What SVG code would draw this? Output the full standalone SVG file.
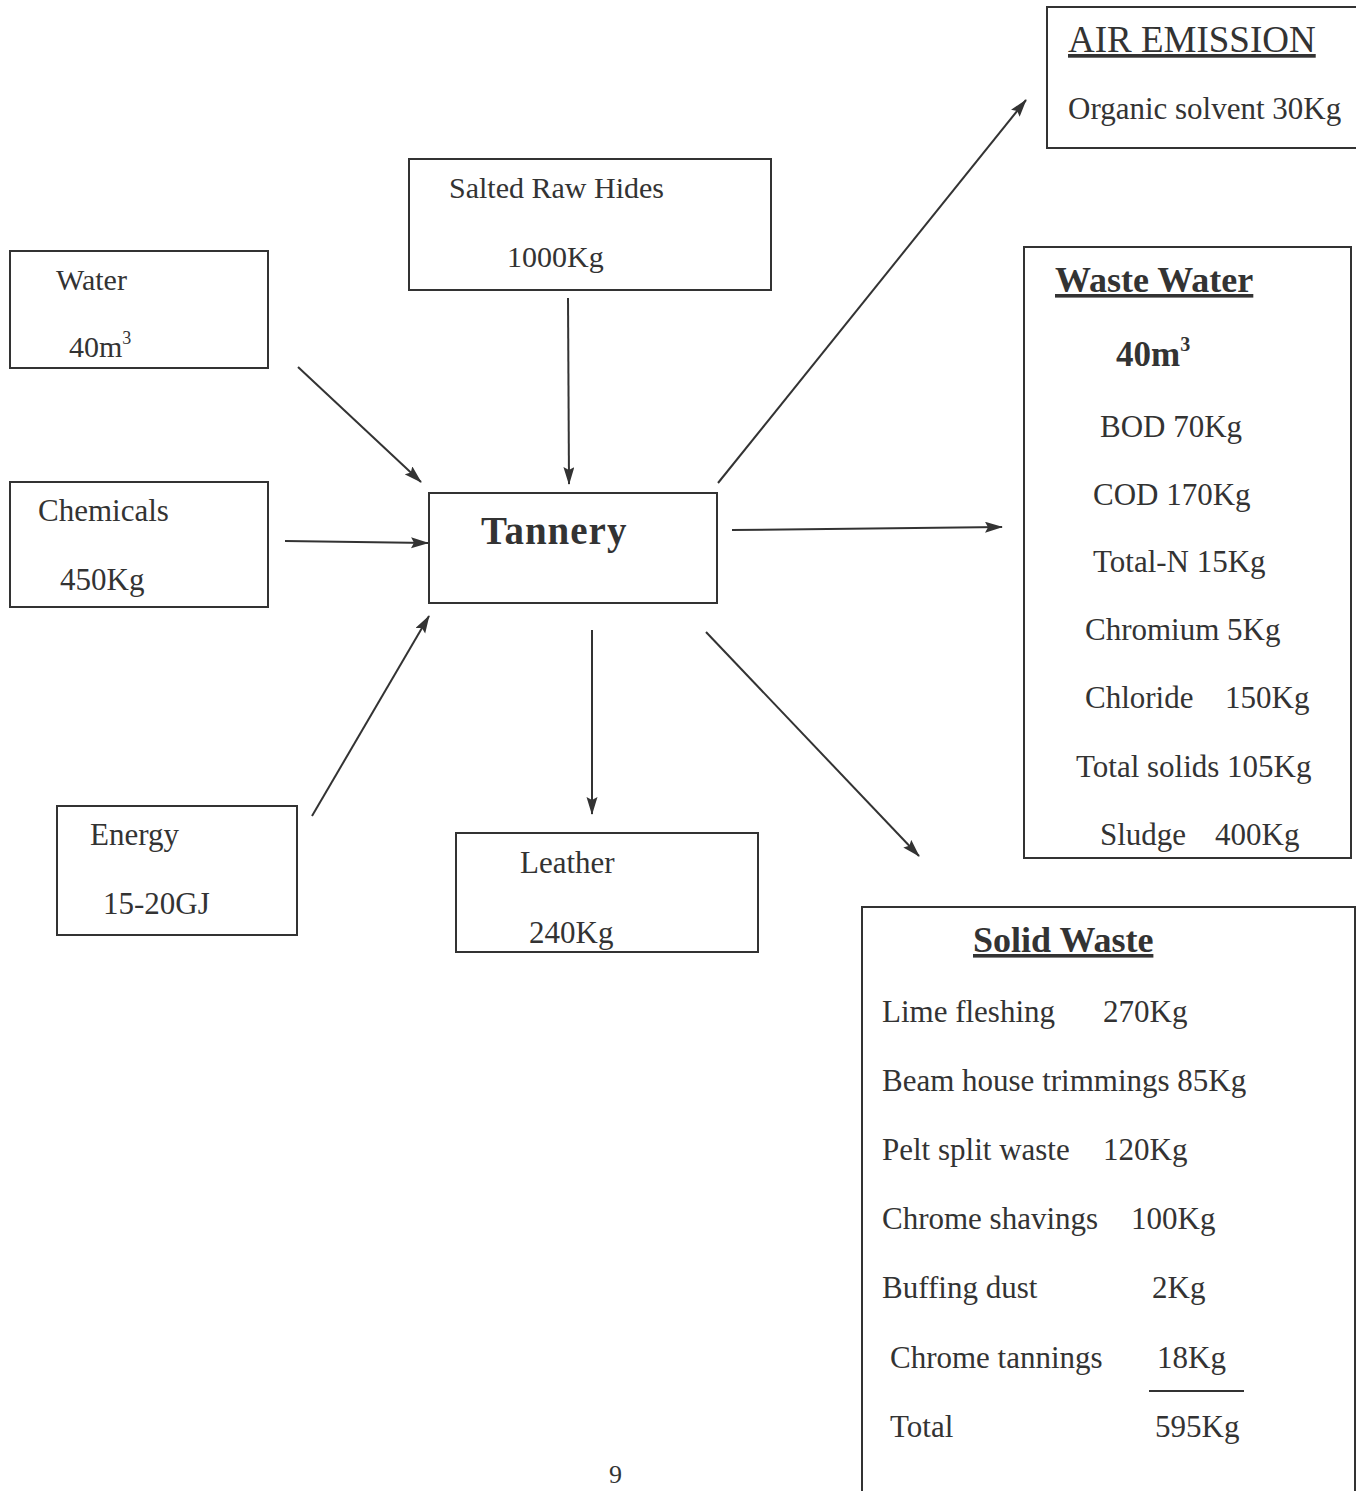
<svg xmlns="http://www.w3.org/2000/svg" width="1356" height="1491" viewBox="0 0 1356 1491">
<defs>
<style>
.box{fill:#fff;stroke:#333;stroke-width:2}
.t{font-family:"Liberation Serif","Times New Roman",serif;font-size:31px;fill:#333}
.h{font-family:"Liberation Serif","Times New Roman",serif;font-size:36px;font-weight:bold;fill:#333;text-decoration:underline}
.c{stroke:#333;stroke-width:2;fill:none;marker-end:url(#ah)}
</style>
<marker id="ah" markerUnits="userSpaceOnUse" markerWidth="18" markerHeight="12" refX="17" refY="5.5" orient="auto">
<path d="M0,0 L18,5.5 L0,11 L3,5.5 z" fill="#333"/>
</marker>
</defs>
<rect width="1356" height="1491" fill="#fff"/>
<g id="connectors">
<line class="c" x1="298" y1="367" x2="421" y2="482"/>
<line class="c" x1="568" y1="298" x2="569" y2="484"/>
<line class="c" x1="285" y1="541" x2="428" y2="543"/>
<line class="c" x1="312" y1="816" x2="429" y2="616"/>
<line class="c" x1="592" y1="630" x2="592" y2="814"/>
<line class="c" x1="718" y1="483" x2="1026" y2="100"/>
<line class="c" x1="732" y1="530" x2="1002" y2="527"/>
<line class="c" x1="706" y1="632" x2="919" y2="856"/>
</g>
<g id="air-emission">
<rect class="box" x="1047" y="7" width="320" height="141"/>
<text class="t" x="1068" y="52" style="font-size:37px;text-decoration:underline">AIR EMISSION</text>
<text class="t" x="1068" y="119">Organic solvent 30Kg</text>
</g>
<g id="salted-raw-hides">
<rect class="box" x="409" y="159" width="362" height="131"/>
<text class="t" x="449" y="198" style="font-size:30px">Salted Raw Hides</text>
<text class="t" x="507" y="267" style="font-size:30px">1000Kg</text>
</g>
<g id="water">
<rect class="box" x="10" y="251" width="258" height="117"/>
<text class="t" x="56" y="290" style="font-size:30px">Water</text>
<text class="t" x="69" y="357" style="font-size:30px">40m<tspan dy="-13" style="font-size:18px">3</tspan></text>
</g>
<g id="chemicals">
<rect class="box" x="10" y="482" width="258" height="125"/>
<text class="t" x="38" y="521">Chemicals</text>
<text class="t" x="60" y="590">450Kg</text>
</g>
<g id="tannery">
<rect class="box" x="429" y="493" width="288" height="110"/>
<text class="t" x="481" y="544" style="font-size:39px;font-weight:bold;letter-spacing:1px">Tannery</text>
</g>
<g id="energy">
<rect class="box" x="57" y="806" width="240" height="129"/>
<text class="t" x="90" y="845">Energy</text>
<text class="t" x="103" y="914">15-20GJ</text>
</g>
<g id="leather">
<rect class="box" x="456" y="833" width="302" height="119"/>
<text class="t" x="520" y="873">Leather</text>
<text class="t" x="529" y="943">240Kg</text>
</g>
<g id="waste-water">
<rect class="box" x="1024" y="247" width="327" height="611"/>
<text class="h" x="1055" y="292">Waste Water</text>
<text class="t" x="1116" y="366" style="font-size:35px;font-weight:bold">40m<tspan dy="-15" style="font-size:20px">3</tspan></text>
<text class="t" x="1100" y="437">BOD 70Kg</text>
<text class="t" x="1093" y="505">COD 170Kg</text>
<text class="t" x="1093" y="572">Total-N 15Kg</text>
<text class="t" x="1085" y="640">Chromium 5Kg</text>
<text class="t" x="1085" y="708">Chloride<tspan x="1225">150Kg</tspan></text>
<text class="t" x="1076" y="777">Total solids 105Kg</text>
<text class="t" x="1100" y="845">Sludge<tspan x="1215">400Kg</tspan></text>
</g>
<g id="solid-waste">
<rect class="box" x="862" y="907" width="493" height="600"/>
<text class="h" x="973" y="952">Solid Waste</text>
<text class="t" x="882" y="1022">Lime fleshing<tspan x="1103">270Kg</tspan></text>
<text class="t" x="882" y="1091">Beam house trimmings 85Kg</text>
<text class="t" x="882" y="1160">Pelt split waste<tspan x="1103">120Kg</tspan></text>
<text class="t" x="882" y="1229">Chrome shavings<tspan x="1131">100Kg</tspan></text>
<text class="t" x="882" y="1298">Buffing dust<tspan x="1152">2Kg</tspan></text>
<text class="t" x="890" y="1368">Chrome tannings<tspan x="1157">18Kg</tspan></text>
<line x1="1149" y1="1391" x2="1244" y2="1391" stroke="#333" stroke-width="2"/>
<text class="t" x="890" y="1437">Total<tspan x="1155">595Kg</tspan></text>
</g>
<text class="t" x="609" y="1483" style="font-size:26px">9</text>
</svg>
